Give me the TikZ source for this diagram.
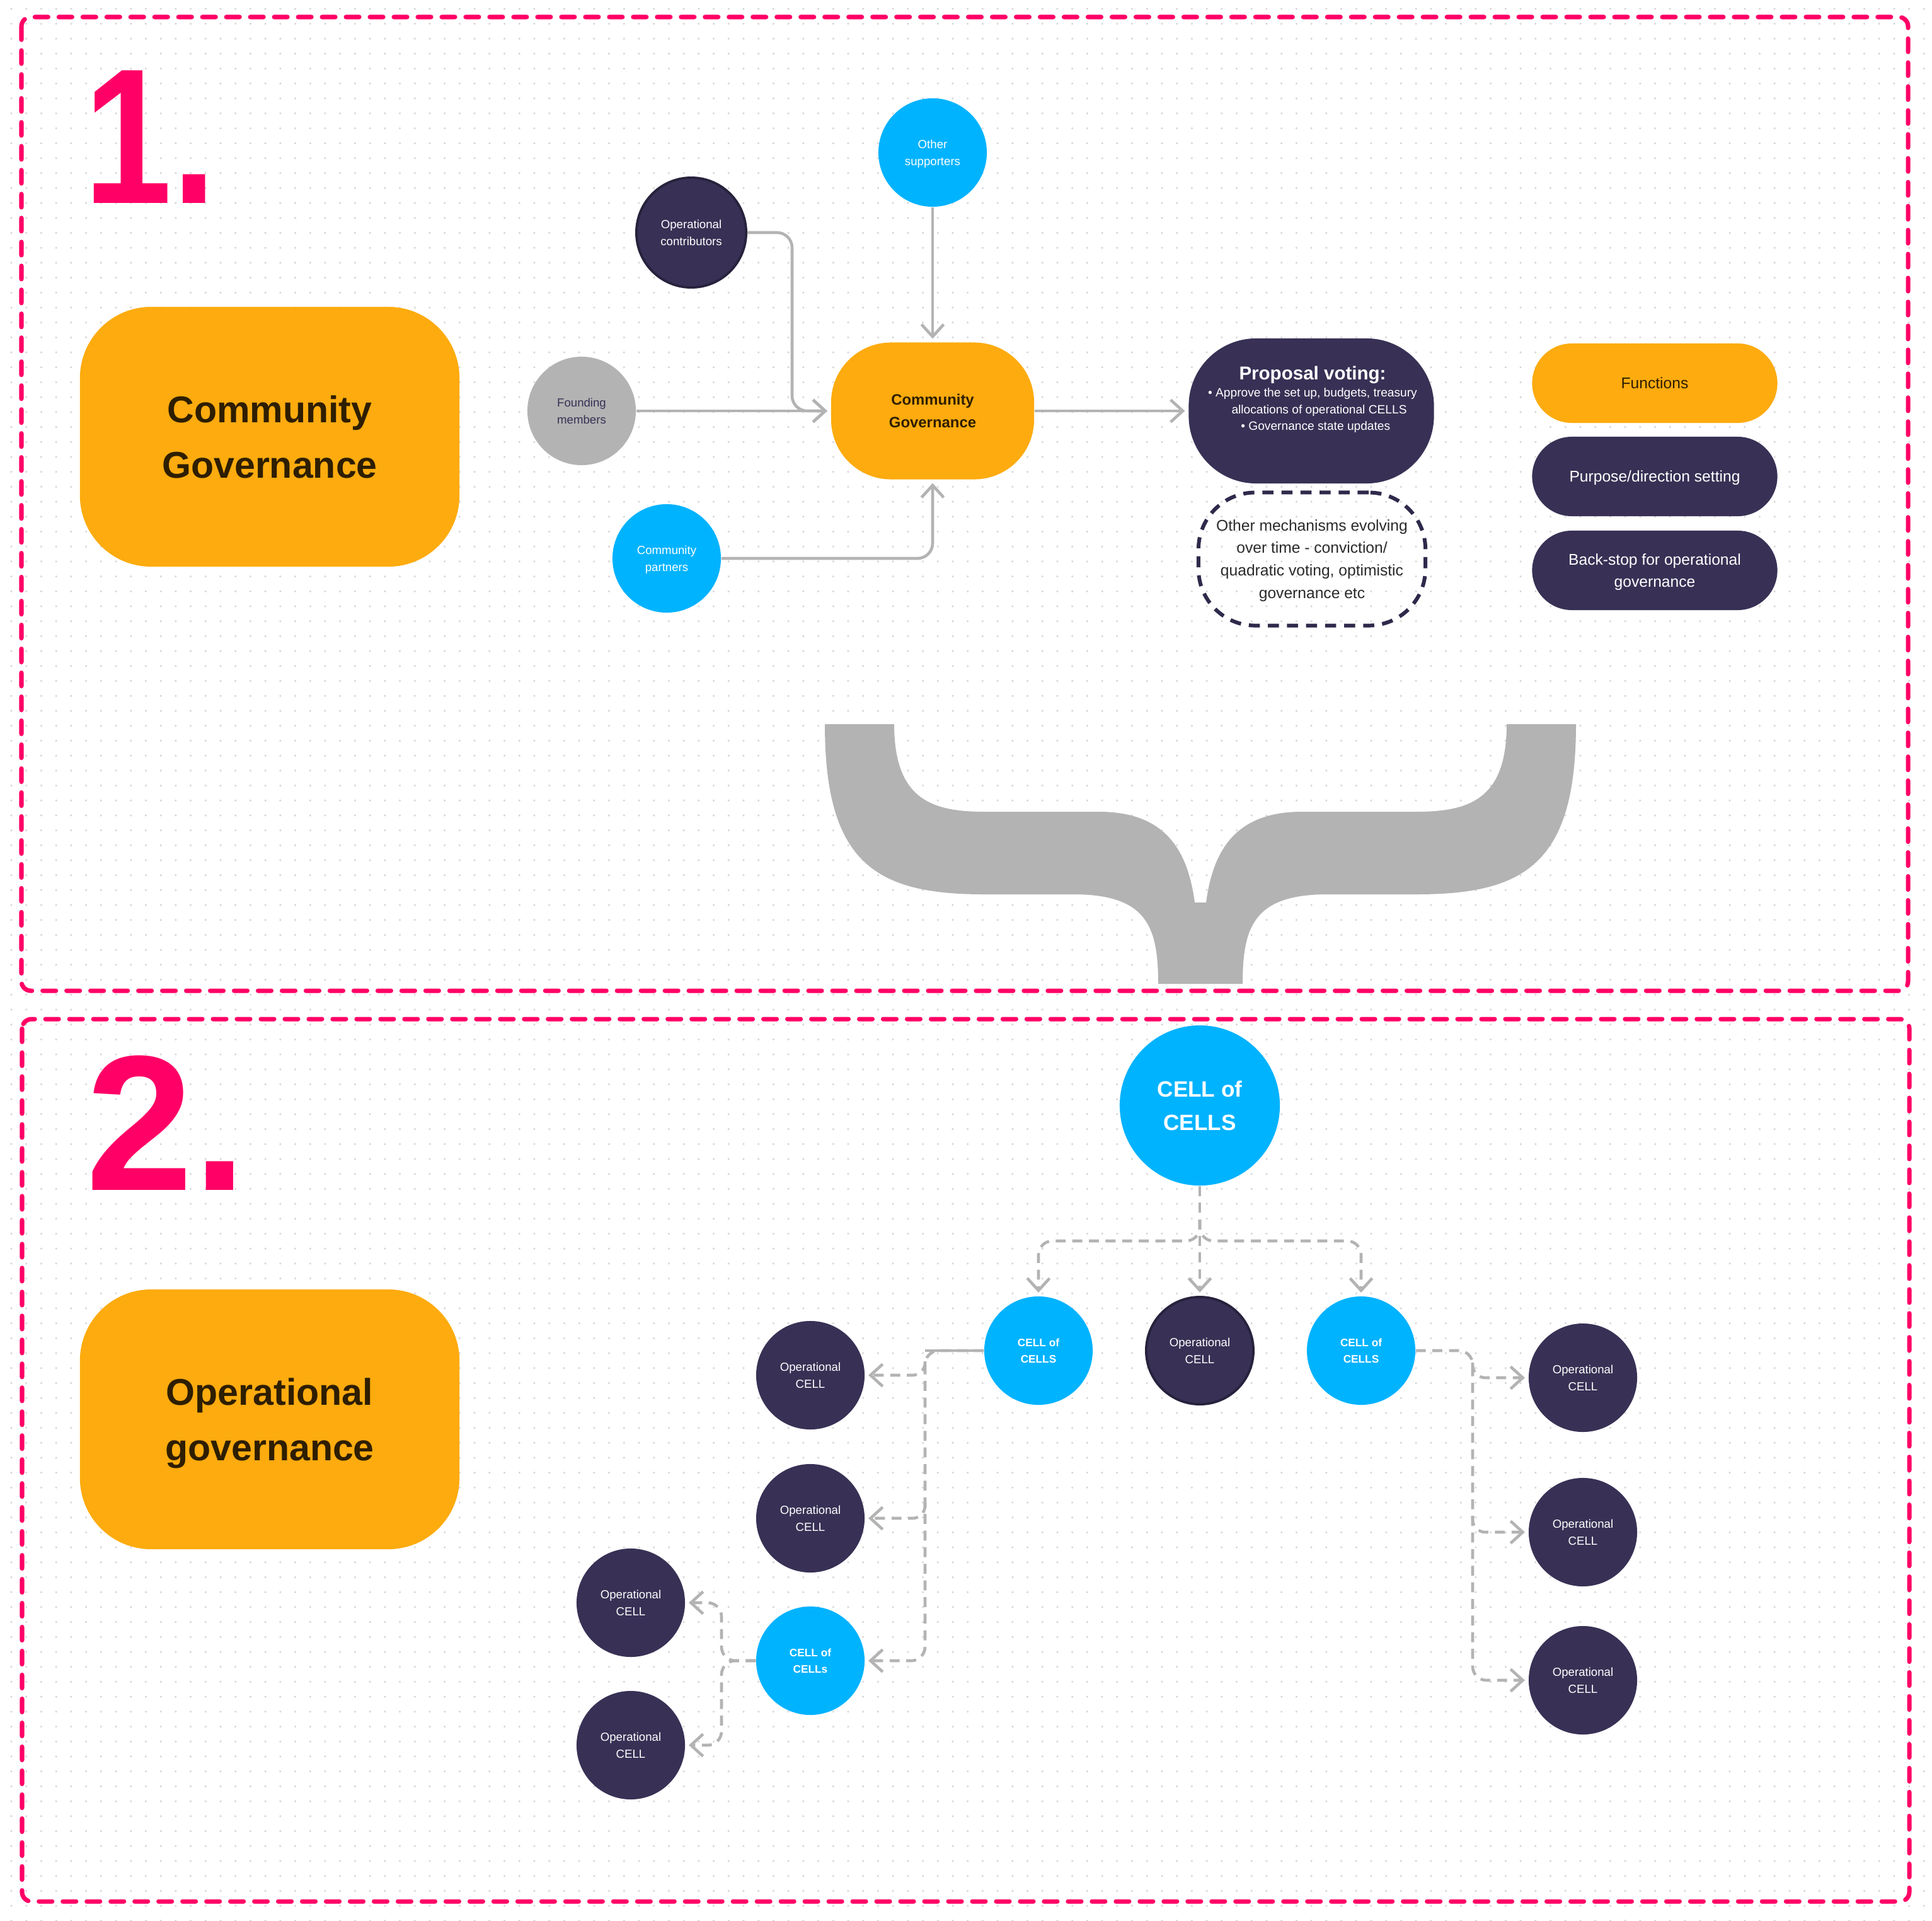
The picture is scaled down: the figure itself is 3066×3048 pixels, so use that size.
\documentclass[tikz,border=0pt]{standalone}
\usepackage{graphicx}
\usepackage{fontspec}
\setmainfont{Liberation Sans}
\usetikzlibrary{arrows.meta}
\definecolor{orng}{HTML}{FDAB0E}
\definecolor{navy}{HTML}{383155}
\definecolor{navyb}{HTML}{27223D}
\definecolor{cyan1}{HTML}{00B3FF}
\definecolor{grey1}{HTML}{B3B3B3}
\definecolor{pink1}{HTML}{FF0066}
\definecolor{brown1}{HTML}{2E1E00}
\definecolor{dotc}{HTML}{D6D6D6}
\definecolor{dashnavy}{HTML}{2E2A4B}
\definecolor{darktext}{HTML}{2B2B2B}
\newcommand{\fs}[2]{\fontsize{#1}{#2}\selectfont}
\begin{document}
\begin{tikzpicture}[x=0.01cm,y=-0.01cm,
  dotline/.style={draw=dotc, line width=0.035cm, line cap=round, dash pattern=on 0pt off 0.237cm},
  frame/.style={draw=pink1, line width=2pt, line cap=round, dash pattern=on 6pt off 4.8pt, rounded corners=0.15cm},
  circ/.style={circle, minimum size=1.72cm, inner sep=0pt, align=center, text=white, text depth=0pt, font=\fs{5.3pt}{7.6pt}},
  navyc/.style={circ, fill=navy},
  navybd/.style={circ, fill=navy, draw=navyb, line width=1.1pt, minimum size=1.70cm},
  cyanc/.style={circ, fill=cyan1},
  cyanb/.style={circ, fill=cyan1, font=\bfseries\fs{4.9pt}{7.5pt}},
  headbox/.style={rectangle, fill=orng, minimum width=6.02cm, minimum height=4.12cm, rounded corners=1.13cm, align=center, text=brown1, text depth=0pt, font=\bfseries\fs{16.8pt}{25pt}},
  pill/.style={rectangle, minimum width=3.89cm, minimum height=1.26cm, rounded corners=0.63cm, align=center, text depth=0pt, font=\fs{7pt}{10pt}},
  conn/.style={draw=grey1, line width=1.3pt, -{Straight Barb[length=5.5pt,width=10pt]}, shorten >=1.5pt},
  dconn/.style={conn, dash pattern=on 4.5pt off 3pt},
  bigdigit/.style={anchor=base west, inner sep=0pt, text=pink1, font=\bfseries\fs{87pt}{87pt}}
]
\useasboundingbox (0,0) rectangle (3066,3048);
\fill[white] (0,0) rectangle (3066,3048);
% dot grid
\foreach \r in {0,...,128} {
  \draw[dotline] (18,{14+23.7*\r}) -- (3066,{14+23.7*\r});
}
% frames
\draw[frame] (34,27) rectangle (3028,1572);
\draw[frame] (35,1617) rectangle (3030,3017);

% big numbers
\node[bigdigit] (n1) at (133,322) {\scalebox{0.82}[1]{1.}};
\node[bigdigit] (n2) at (136,1888) {2.};

% heading boxes
\node[headbox] (h1) at (428,693) {Community\\Governance};
\node[headbox] (h2) at (428,2252) {Operational\\governance};

% brace
\fill[grey1] (1309,1149) .. controls (1309,1370) and (1390,1419) .. (1562,1419) -- (1703,1419)
  .. controls (1820,1419) and (1838,1470) .. (1838,1561) -- (1972,1561)
  .. controls (1972,1470) and (1990,1419) .. (2107,1419) -- (2248,1419)
  .. controls (2420,1419) and (2501,1370) .. (2501,1149) -- (2391,1149)
  .. controls (2391,1270) and (2330,1288) .. (2246,1288) -- (2066,1288)
  .. controls (1960,1288) and (1925,1350) .. (1914,1432) -- (1896,1432)
  .. controls (1885,1350) and (1850,1288) .. (1744,1288) -- (1564,1288)
  .. controls (1480,1288) and (1419,1270) .. (1419,1149) -- cycle;

% section 1 nodes
\node[navybd, minimum size=1.74cm] (oc) at (1097,369) {Operational\\contributors};
\node[cyanc] (os) at (1480,242) {Other\\supporters};
\node[circ, fill=grey1, text=navy] (fm) at (923,652) {Founding\\members};
\node[cyanc] (cp) at (1058,886) {Community\\partners};
\node[rectangle, fill=orng, minimum width=3.22cm, minimum height=2.17cm, rounded corners=0.95cm, align=center, text=brown1, font=\bfseries\fs{6.8pt}{10pt}] (cg) at (1480,652) {Community\\Governance};
\node[rectangle, fill=navy, minimum width=3.89cm, minimum height=2.30cm, rounded corners=1.07cm] (pv) at (2081,652) {};
\node[align=center, text=white, inner sep=0pt, font=\fs{5.45pt}{7.6pt}] (pvt) at (2083,634)
  {{\bfseries\fs{8.4pt}{7.6pt}Proposal voting:}\\
   • Approve the set up, budgets, treasury\\
   \hspace{1.1em}allocations of operational CELLS\\
   \hspace{0.5em}• Governance state updates};
\node[rectangle, draw=dashnavy, line width=1.7pt, dash pattern=on 5pt off 3.6pt, minimum width=3.60cm, minimum height=2.11cm, rounded corners=0.9cm, align=center, text=darktext, text depth=0pt, font=\fs{7pt}{10.2pt}] (db) at (2082,887)
  {Other mechanisms evolving\\over time - conviction/\\quadratic voting, optimistic\\governance etc};
\node[pill, fill=orng, text=brown1] (fn) at (2626,608) {Functions};
\node[pill, fill=navy, text=white] (pd) at (2626,756) {Purpose/direction setting};
\node[pill, fill=navy, text=white] (bs) at (2626,905) {Back-stop for operational\\governance};

% section 1 connectors
\coordinate (k1) at (1257,652);
\draw[conn] (os.south) -- (cg.north);
\draw[conn, rounded corners=0.24cm] (oc.east) -| (k1) -- (cg.west);
\draw[conn] (fm.east) -- (cg.west);
\draw[conn, rounded corners=0.24cm] (cp.east) -| (cg.south);
\draw[conn] (cg.east) -- (pv.west);

% section 2 nodes
\node[cyanc, minimum size=2.54cm, font=\bfseries\fs{10pt}{15pt}] (top) at (1904,1754) {CELL of\\CELLS};
\node[cyanb] (c2a) at (1648,2143) {CELL of\\CELLS};
\node[navybd] (op2) at (1904,2143) {Operational\\CELL};
\node[cyanb] (c2c) at (2160,2143) {CELL of\\CELLS};
\node[navyc] (op3a) at (1286,2182) {Operational\\CELL};
\node[navyc] (op3b) at (1286,2409) {Operational\\CELL};
\node[cyanb] (c3) at (1286,2635) {CELL of\\CELLs};
\node[navyc] (op5a) at (1001,2543) {Operational\\CELL};
\node[navyc] (op5b) at (1001,2769) {Operational\\CELL};
\node[navyc] (op4a) at (2512,2186) {Operational\\CELL};
\node[navyc] (op4b) at (2512,2431) {Operational\\CELL};
\node[navyc] (op4c) at (2512,2666) {Operational\\CELL};

% section 2 connectors
\coordinate (t0) at (1904,1935);
\coordinate (t1) at (1904,1969);
\draw[dconn] (top.south) -- (op2.north);
\draw[dconn, rounded corners=0.22cm] (t0) -- (t1) -| (c2a.north);
\draw[dconn, rounded corners=0.22cm] (t0) -- (t1) -| (c2c.north);

\coordinate (l1) at (1468,2143);
\coordinate (l2) at (1468,2160);
\coordinate (l3) at (1468,2385);
\draw[draw=grey1, line width=1.3pt] (c2a.west) -- (l1);
\draw[dconn, rounded corners=0.22cm] (c2a.west) -- (l1) |- (c3.east);
\draw[dconn, rounded corners=0.2cm] (l2) |- (op3a.east);
\draw[dconn, rounded corners=0.2cm] (l3) |- (op3b.east);

\coordinate (r1) at (2337,2143);
\coordinate (r2) at (2337,2162);
\coordinate (r3) at (2337,2405);
\draw[dconn, rounded corners=0.22cm] (c2c.east) -- (r1) |- (op4c.west);
\draw[dconn, rounded corners=0.2cm] (r2) |- (op4a.west);
\draw[dconn, rounded corners=0.2cm] (r3) |- (op4b.west);

\coordinate (m1) at (1145,2635);
\draw[dconn, rounded corners=0.22cm] (c3.west) -- (m1) |- (op5a.east);
\draw[dconn, rounded corners=0.22cm] (c3.west) -- (m1) |- (op5b.east);
\end{tikzpicture}
\end{document}
